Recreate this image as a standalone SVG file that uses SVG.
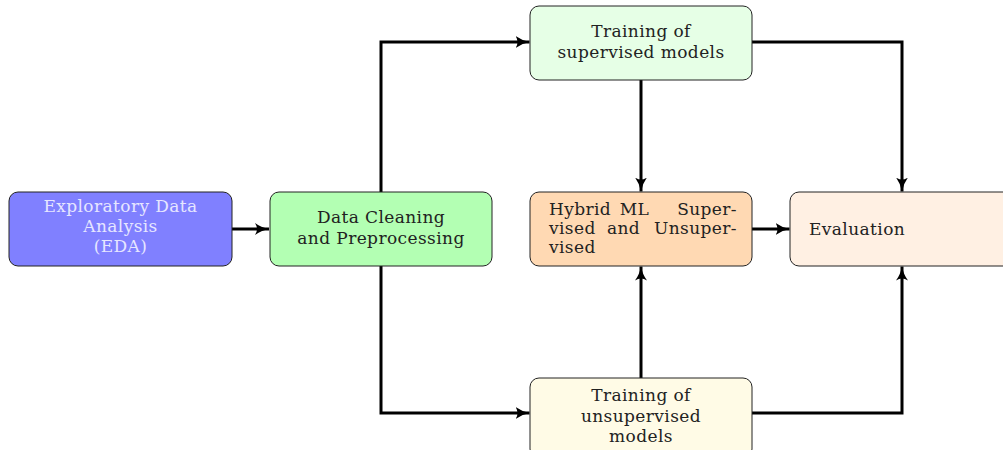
<svg xmlns="http://www.w3.org/2000/svg" width="1003" height="450" viewBox="0 0 1003 450">
<style>
.box{stroke:#222;stroke-width:1}
.t{font-family:"DejaVu Serif","Liberation Serif",serif;font-size:17px;fill:#222;letter-spacing:0.4px}
.c{text-anchor:middle}
.e{text-anchor:end}
.conn{fill:none;stroke:#000;stroke-width:3}
</style>
<defs>
<marker id="ah" markerWidth="15" markerHeight="13" refX="14" refY="6.5" orient="auto" markerUnits="userSpaceOnUse">
<path d="M0,0.5 Q6,5 14,6.5 Q6,8 0,12.5 Q4,6.5 0,0.5Z" fill="#000"/>
</marker>
</defs>
<rect width="1003" height="450" fill="#fff"/>
<g id="connectors">
<path class="conn" d="M232,229 H269" marker-end="url(#ah)"/>
<path class="conn" d="M381,192 V42 H529.5" marker-end="url(#ah)"/>
<path class="conn" d="M381,266 V413 H529.5" marker-end="url(#ah)"/>
<path class="conn" d="M641,80 V191.5" marker-end="url(#ah)"/>
<path class="conn" d="M752,42 H902 V191.5" marker-end="url(#ah)"/>
<path class="conn" d="M641,378 V266.5" marker-end="url(#ah)"/>
<path class="conn" d="M752,413 H902 V266.5" marker-end="url(#ah)"/>
<path class="conn" d="M752,229 H789.5" marker-end="url(#ah)"/>
</g>
<g id="eda">
<rect class="box" x="9" y="192" width="223" height="74" rx="9" fill="#8080ff"/>
<text class="t c" x="120.5" y="212" style="fill:#e6e6ff">Exploratory Data</text>
<text class="t c" x="120.5" y="232" style="fill:#e6e6ff">Analysis</text>
<text class="t c" x="120.5" y="252" style="fill:#e6e6ff">(EDA)</text>
</g>
<g id="cleaning">
<rect class="box" x="270" y="192" width="222" height="74" rx="9" fill="#b3ffb3"/>
<text class="t c" x="381" y="223">Data Cleaning</text>
<text class="t c" x="381" y="244">and Preprocessing</text>
</g>
<g id="supervised">
<rect class="box" x="530" y="6" width="222" height="74" rx="9" fill="#e6ffe6"/>
<text class="t c" x="641" y="37">Training of</text>
<text class="t c" x="641" y="58">supervised models</text>
</g>
<g id="hybrid">
<rect class="box" x="530" y="192" width="222" height="74" rx="9" fill="#ffd9b3"/>
<text class="t" x="549" y="215">Hybrid</text>
<text class="t c" x="634.5" y="215">ML</text>
<text class="t e" x="737" y="215">Super-</text>
<text class="t" x="549" y="234">vised</text>
<text class="t c" x="623.5" y="234">and</text>
<text class="t e" x="737" y="234">Unsuper-</text>
<text class="t" x="549" y="253">vised</text>
</g>
<g id="evaluation">
<rect class="box" x="790" y="192" width="222" height="74" rx="9" fill="#fff0e3"/>
<text class="t" x="809" y="235">Evaluation</text>
</g>
<g id="unsupervised">
<rect class="box" x="530" y="378" width="222" height="80" rx="9" fill="#fffbe6"/>
<text class="t c" x="641" y="401">Training of</text>
<text class="t c" x="641" y="422">unsupervised</text>
<text class="t c" x="641" y="442">models</text>
</g>
</svg>
